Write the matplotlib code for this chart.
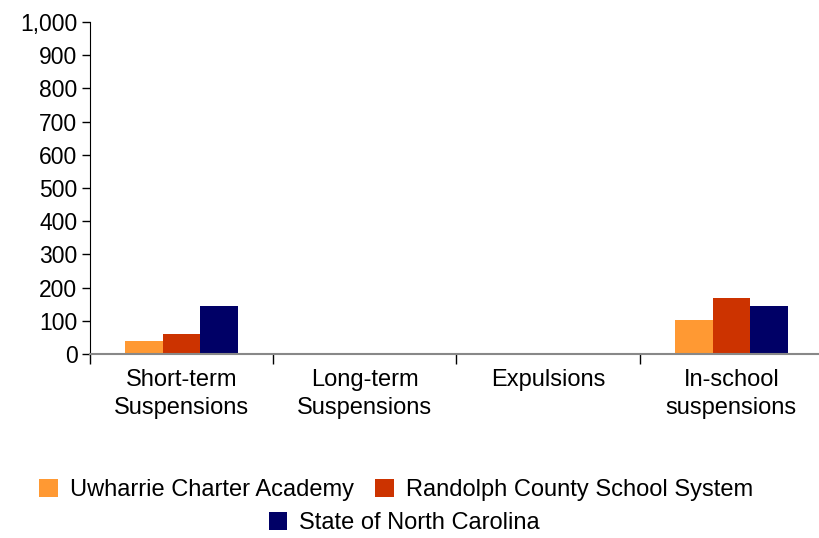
import numpy as np
import matplotlib.pyplot as plt

plt.rcParams['font.family'] = ['Liberation Sans', 'DejaVu Sans']

categories = ['Short-term\nSuspensions', 'Long-term\nSuspensions', 'Expulsions', 'In-school\nsuspensions']
series = ['Uwharrie Charter Academy', 'Randolph County School System', 'State of North Carolina']
uwharrie = [39, 0, 0, 102]
randolph = [60, 0, 0, 168]
state = [144, 0, 0, 144]
colors = ['#ff9933', '#cc3300', '#000066']

fs = 17

fig = plt.figure(figsize=(8.2, 5.38), dpi=100)
ax = fig.add_axes([90 / 820, 1 - 354 / 538, 733 / 820, 332 / 538])

x = np.arange(len(categories))
w = 0.205
bars = []
for i, (vals, c) in enumerate(zip([uwharrie, randolph, state], colors)):
    b = ax.bar(x + (i - 1) * w, vals, width=w, color=c, label=series[i])
    bars.append(b)

ax.set_xlim(-0.5, len(categories) - 0.5)
ax.set_ylim(0, 1000)
ax.set_yticks(np.arange(0, 1001, 100))
ax.set_yticklabels([f'{v:,}' for v in range(0, 1001, 100)], fontsize=16.5)
ax.tick_params(axis='y', length=6, width=1, color='black', pad=3)

# category labels at centers, ticks at boundaries
ax.set_xticks(x)
ax.set_xticklabels(categories, fontsize=fs, linespacing=1.35)
ax.tick_params(axis='x', which='major', length=0, pad=11)
ax.set_xticks(np.arange(-0.5, len(categories)), minor=True)
ax.tick_params(axis='x', which='minor', length=7, width=1, color='black')

for s in ['top', 'right']:
    ax.spines[s].set_visible(False)
ax.spines['left'].set_color('black')
ax.spines['bottom'].set_color('#888888')
ax.spines['bottom'].set_linewidth(1.5)

fig.legend(handles=bars[:2], loc='center', bbox_to_anchor=(0.483, 1 - 490 / 538),
           ncol=2, frameon=False, fontsize=fs, handlelength=0.8, handleheight=0.8,
           handletextpad=0.5, columnspacing=0.9)
fig.legend(handles=bars[2:], loc='center', bbox_to_anchor=(0.493, 1 - 523 / 538),
           frameon=False, fontsize=fs, handlelength=0.8, handleheight=0.8,
           handletextpad=0.5)

fig.savefig('out.png', dpi=100)
